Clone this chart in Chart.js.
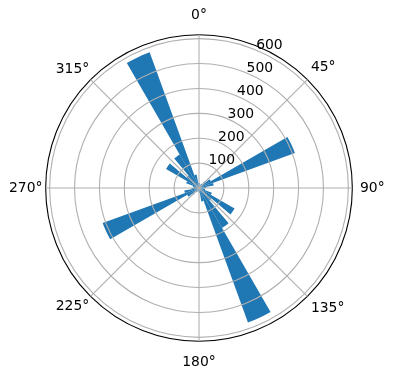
<!DOCTYPE html>
<html>
<head>
<meta charset="utf-8">
<script src="https://cdn.jsdelivr.net/npm/chart.js@4/dist/chart.umd.min.js"></script>
<style>
  html, body { margin: 0; padding: 0; background: #ffffff; }
  #wrap { width: 396px; height: 380px; }
</style>
</head>
<body>
<div id="wrap"><canvas id="c" width="396" height="380"></canvas></div>
<script>
// 36 direction bins of 10° each, starting at 0° (north), clockwise
const binStartDegrees = [0,10,20,30,40,50,60,70,80,90,100,110,120,130,140,150,160,170,
                         180,190,200,210,220,230,240,250,260,270,280,290,300,310,320,330,340,350];
const counts = [20,10,15,20,35,55,410,60,30,20,25,55,165,65,185,575,55,20,
                15,10,15,20,35,55,412,60,30,20,25,55,153,65,155,580,55,20];
// angular tick labels
const thetaTickLabels = ['0°','45°','90°','135°','180°','225°','270°','315°'];
// radial ticks
const radialTickValues = [0,100,200,300,400,500,600];
const radialMax = 616;

const FONT = 'DejaVu Sans';
const FSIZE = 13.9;
Chart.defaults.font.family = FONT;
Chart.defaults.font.size = FSIZE;
Chart.defaults.color = '#000000';

// per-label padding so label centres sit at a common distance, like matplotlib
const thetaLabelPadding = [10.5, 5, 7.7, 5, 13, 2, 3.2, 2];

const radialLabelPlugin = {
  id: 'radialLabels',
  afterDraw(chart) {
    const s = chart.scales.r;
    const ctx = chart.ctx;
    const a = 22.5 * Math.PI / 180;
    ctx.save();
    ctx.font = FSIZE + 'px "' + FONT + '"';
    ctx.fillStyle = '#000000';
    ctx.textAlign = 'left';
    ctx.textBaseline = 'alphabetic';
    radialTickValues.forEach(v => {
      if (v === 0) return;
      const r = s.getDistanceFromCenterForValue(v);
      const x = s.xCenter + r * Math.sin(a);
      const y = s.yCenter - r * Math.cos(a);
      ctx.fillText(String(v), x, y - 1);
    });
    ctx.restore();
  }
};

new Chart(document.getElementById('c'), {
  type: 'polarArea',
  data: {
    labels: thetaTickLabels,
    datasets: [{
      data: counts,
      backgroundColor: '#1f77b4',
      borderWidth: 0
    }]
  },
  options: {
    responsive: false,
    animation: false,
    layout: { padding: { top: 7, bottom: 7, left: 0, right: 2 } },
    plugins: { legend: { display: false }, tooltip: { enabled: false } },
    scales: {
      r: {
        min: 0,
        max: radialMax,
        startAngle: 0,
        afterBuildTicks: (scale) => {
          scale.ticks = radialTickValues.concat([radialMax]).map(v => ({ value: v }));
        },
        ticks: { display: false },
        grid: {
          circular: true,
          z: 1,
          color: (ctx) => (ctx.tick && ctx.tick.value === radialMax) ? '#000000' : '#b0b0b0',
          lineWidth: 1.1
        },
        angleLines: { display: true, color: '#b0b0b0', lineWidth: 1.1 },
        pointLabels: {
          display: true,
          color: '#000000',
          font: { family: FONT, size: FSIZE },
          padding: (ctx) => thetaLabelPadding[ctx.index]
        }
      }
    }
  },
  plugins: [radialLabelPlugin]
});
</script>
</body>
</html>
